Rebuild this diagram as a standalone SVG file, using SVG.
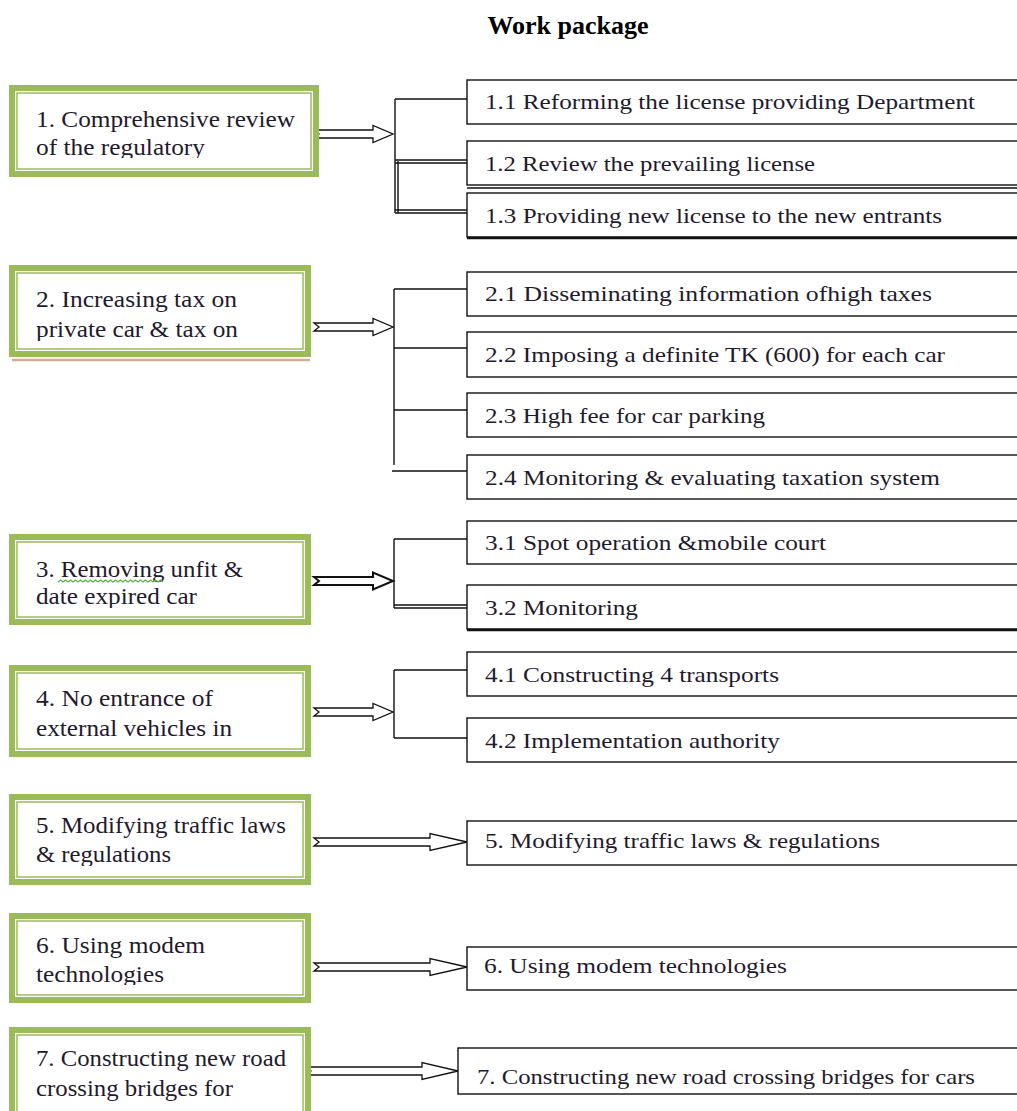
<svg xmlns="http://www.w3.org/2000/svg" width="1017" height="1111" viewBox="0 0 1017 1111">
<style>
.bg{fill:#ffffff}
.gout{fill:#ffffff;stroke:#9bbb59;stroke-width:6}
.gin{fill:none;stroke:#9bbb59;stroke-width:1.5}
.rbox{fill:#ffffff;stroke:#111111;stroke-width:1.4}
.t{font-family:"Liberation Serif","Times New Roman",serif;font-size:23px;fill:#1f1a2e}
.rt{font-family:"Liberation Serif","Times New Roman",serif;font-size:22px;fill:#1f1a2e}
.title{font-family:"Liberation Serif","Times New Roman",serif;font-size:26px;font-weight:bold;fill:#000000}
.ln{fill:none;stroke:#111111;stroke-width:1.4}
.arr{fill:#ffffff;stroke:#111111;stroke-width:1.3;stroke-linejoin:miter}
</style>
<defs>
<clipPath id="c1"><rect x="18" y="94" width="292" height="64"/></clipPath>
<clipPath id="c2"><rect x="18" y="274" width="284" height="67"/></clipPath>
<clipPath id="c3"><rect x="18" y="543" width="284" height="65"/></clipPath>
<clipPath id="c4"><rect x="18" y="674" width="284" height="65"/></clipPath>
<clipPath id="c5"><rect x="18" y="803" width="284" height="63"/></clipPath>
<clipPath id="c6"><rect x="18" y="922" width="284" height="63"/></clipPath>
<clipPath id="c7"><rect x="18" y="1036" width="284" height="75"/></clipPath>
</defs>
<rect class="bg" x="0" y="0" width="1017" height="1111"/>
<text class="title" x="568" y="34" text-anchor="middle">Work package</text>

<g id="connectors">
  <!-- group 1 -->
  <polygon class="arr" points="314,130 373,130 373,125.5 393,134 373,142.5 373,138 314,138 319,134"/>
  <path class="ln" d="M395,99 V213 M398,161 V213 M395,99 H467 M395,160 H467 M395,163 H467 M395,210 H467 M395,213 H467"/>
  <!-- group 2 -->
  <polygon class="arr" points="314,323 373,323 373,318.5 393,327 373,335.5 373,331 314,331 319,327"/>
  <path class="ln" d="M394,289 V465 M394,289 H467 M394,348 H467 M394,410 H467 M392,471 H467"/>
  <!-- group 3 -->
  <polygon class="arr" style="stroke-width:2" points="314,577 373,577 373,572.5 393,581 373,589.5 373,585 314,585 319,581"/>
  <path class="ln" d="M394,539 V608 M394,539 H467 M394,605 H467 M394,608 H467"/>
  <!-- group 4 -->
  <polygon class="arr" points="314,708 373,708 373,703.5 393,712 373,720.5 373,716 314,716 319,712"/>
  <path class="ln" d="M394,670 V738 M394,670 H467 M394,738 H467"/>
  <!-- group 5 -->
  <polygon class="arr" points="314,838 430,838 430,833.5 467,842 430,850.5 430,846 314,846 319,842"/>
  <!-- group 6 -->
  <polygon class="arr" points="314,963 430,963 430,958.5 467,967 430,975.5 430,971 314,971 319,967"/>
  <!-- group 7 -->
  <polygon class="arr" points="306,1067 422,1067 422,1062.5 458,1071 422,1079.5 422,1075 306,1075 311,1071"/>
</g>

<g id="n1">
  <rect class="gout" x="12" y="88" width="304" height="86"/>
  <rect class="gin" x="17" y="93" width="294" height="76"/>
  <g clip-path="url(#c1)">
    <text class="t" x="36" y="127" textLength="259" lengthAdjust="spacingAndGlyphs">1. Comprehensive review</text>
    <text class="t" x="36" y="155" textLength="169" lengthAdjust="spacingAndGlyphs">of the regulatory</text>
  </g>
</g>
<g id="n1_1"><rect class="rbox" x="467" y="80" width="560" height="44"/><text class="rt" x="485" y="109" textLength="490" lengthAdjust="spacingAndGlyphs">1.1 Reforming the license providing Department</text></g>
<g id="n1_2"><rect class="rbox" x="467" y="141" width="560" height="44"/><path class="ln" d="M467,188 H1017"/><text class="rt" x="485" y="171" textLength="330" lengthAdjust="spacingAndGlyphs">1.2 Review the prevailing license</text></g>
<g id="n1_3"><rect class="rbox" x="467" y="193" width="560" height="44"/><path class="ln" style="stroke-width:2.5" d="M467,238 H1017"/><text class="rt" x="485" y="223" textLength="457" lengthAdjust="spacingAndGlyphs">1.3 Providing new license to the new entrants</text></g>

<g id="n2">
  <path d="M12,360 H310" stroke="#d6ab8e" stroke-width="2.5"/>
  <rect class="gout" x="12" y="268" width="296" height="86"/>
  <rect class="gin" x="17" y="273" width="286" height="76"/>
  <g clip-path="url(#c2)">
    <text class="t" x="36" y="307" textLength="201" lengthAdjust="spacingAndGlyphs">2. Increasing tax on</text>
    <text class="t" x="36" y="337" textLength="202" lengthAdjust="spacingAndGlyphs">private car &amp; tax on</text>
  </g>
</g>
<g id="n2_1"><rect class="rbox" x="467" y="272" width="560" height="44"/><text class="rt" x="485" y="301" textLength="447" lengthAdjust="spacingAndGlyphs">2.1 Disseminating information ofhigh taxes</text></g>
<g id="n2_2"><rect class="rbox" x="467" y="332" width="560" height="45"/><text class="rt" x="485" y="362" textLength="460" lengthAdjust="spacingAndGlyphs">2.2 Imposing a definite TK (600) for each car</text></g>
<g id="n2_3"><rect class="rbox" x="467" y="393" width="560" height="44"/><text class="rt" x="485" y="423" textLength="280" lengthAdjust="spacingAndGlyphs">2.3 High fee for car parking</text></g>
<g id="n2_4"><rect class="rbox" x="467" y="455" width="560" height="44"/><text class="rt" x="485" y="485" textLength="455" lengthAdjust="spacingAndGlyphs">2.4 Monitoring &amp; evaluating taxation system</text></g>

<g id="n3">
  <rect class="gout" x="12" y="537" width="296" height="85"/>
  <rect class="gin" x="17" y="542" width="286" height="75"/>
  <g clip-path="url(#c3)">
    <text class="t" x="36" y="577" textLength="207" lengthAdjust="spacingAndGlyphs">3. Removing unfit &amp;</text>
    <text class="t" x="36" y="604" textLength="161" lengthAdjust="spacingAndGlyphs">date expired car</text>
  </g>
  <path d="M58,582 l2.5,-2 l2.5,2 l2.5,-2 l2.5,2 l2.5,-2 l2.5,2 l2.5,-2 l2.5,2 l2.5,-2 l2.5,2 l2.5,-2 l2.5,2 l2.5,-2 l2.5,2 l2.5,-2 l2.5,2 l2.5,-2 l2.5,2 l2.5,-2 l2.5,2 l2.5,-2 l2.5,2 l2.5,-2 l2.5,2 l2.5,-2 l2.5,2 l2.5,-2 l2.5,2 l2.5,-2 l2.5,2 l2.5,-2 l2.5,2 l2.5,-2 l2.5,2 l2.5,-2 l2.5,2 l2.5,-2 l2.5,2 l2.5,-2 l2.5,2 l2.5,-2 l2.5,2" fill="none" stroke="#58b048" stroke-width="1.2"/>
</g>
<g id="n3_1"><rect class="rbox" x="467" y="521" width="560" height="43"/><text class="rt" x="485" y="550" textLength="341" lengthAdjust="spacingAndGlyphs">3.1 Spot operation &amp;mobile court</text></g>
<g id="n3_2"><rect class="rbox" x="467" y="585" width="560" height="44"/><path class="ln" style="stroke-width:2.5" d="M467,630 H1017"/><text class="rt" x="485" y="615" textLength="153" lengthAdjust="spacingAndGlyphs">3.2 Monitoring</text></g>

<g id="n4">
  <rect class="gout" x="12" y="668" width="296" height="86"/>
  <rect class="gin" x="17" y="673" width="286" height="76"/>
  <g clip-path="url(#c4)">
    <text class="t" x="36" y="706" textLength="177" lengthAdjust="spacingAndGlyphs">4. No entrance of</text>
    <text class="t" x="36" y="736" textLength="196" lengthAdjust="spacingAndGlyphs">external vehicles in</text>
  </g>
</g>
<g id="n4_1"><rect class="rbox" x="467" y="652" width="560" height="44"/><text class="rt" x="485" y="682" textLength="294" lengthAdjust="spacingAndGlyphs">4.1 Constructing 4 transports</text></g>
<g id="n4_2"><rect class="rbox" x="467" y="718" width="560" height="44"/><text class="rt" x="485" y="748" textLength="295" lengthAdjust="spacingAndGlyphs">4.2 Implementation authority</text></g>

<g id="n5">
  <rect class="gout" x="12" y="797" width="296" height="85"/>
  <rect class="gin" x="17" y="802" width="286" height="75"/>
  <g clip-path="url(#c5)">
    <text class="t" x="36" y="833" textLength="250" lengthAdjust="spacingAndGlyphs">5. Modifying traffic laws</text>
    <text class="t" x="36" y="862" textLength="135" lengthAdjust="spacingAndGlyphs">&amp; regulations</text>
  </g>
</g>
<g id="n5_r"><rect class="rbox" x="467" y="821" width="560" height="44"/><text class="rt" x="485" y="848" textLength="395" lengthAdjust="spacingAndGlyphs">5. Modifying traffic laws &amp; regulations</text></g>

<g id="n6">
  <rect class="gout" x="12" y="916" width="296" height="84"/>
  <rect class="gin" x="17" y="921" width="286" height="74"/>
  <g clip-path="url(#c6)">
    <text class="t" x="36" y="953" textLength="169" lengthAdjust="spacingAndGlyphs">6. Using modem</text>
    <text class="t" x="36" y="982" textLength="128" lengthAdjust="spacingAndGlyphs">technologies</text>
  </g>
</g>
<g id="n6_r"><rect class="rbox" x="467" y="947" width="560" height="43"/><text class="rt" x="484" y="973" textLength="303" lengthAdjust="spacingAndGlyphs">6. Using modem technologies</text></g>

<g id="n7">
  <rect class="gout" x="12" y="1030" width="296" height="90"/>
  <rect class="gin" x="17" y="1035" width="286" height="80"/>
  <g clip-path="url(#c7)">
    <text class="t" x="36" y="1066" textLength="250" lengthAdjust="spacingAndGlyphs">7. Constructing new road</text>
    <text class="t" x="36" y="1096" textLength="197" lengthAdjust="spacingAndGlyphs">crossing bridges for</text>
  </g>
</g>
<g id="n7_r"><rect class="rbox" x="458" y="1048" width="569" height="46"/><text class="rt" x="477" y="1084" textLength="498" lengthAdjust="spacingAndGlyphs">7. Constructing new road crossing bridges for cars</text></g>
</svg>
